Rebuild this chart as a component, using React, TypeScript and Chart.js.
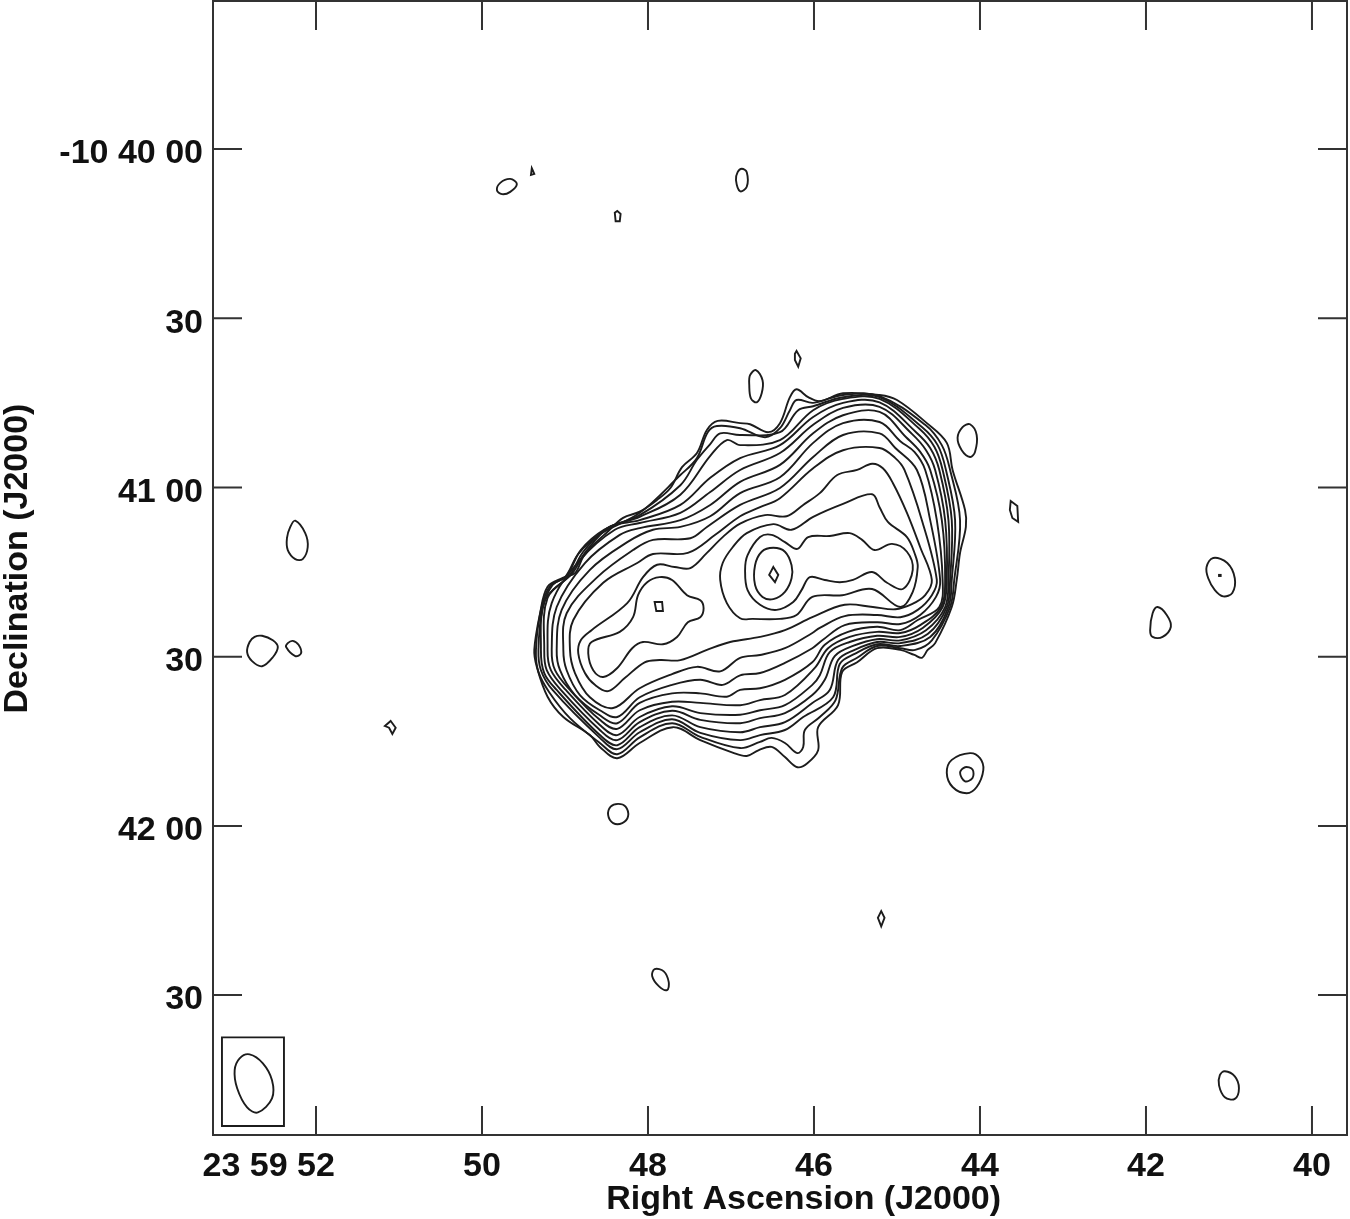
import React, { useEffect, useRef } from "react";
import { Chart, registerables } from "chart.js";

Chart.register(...registerables);

type Pt = [number, number];

// x: Right Ascension seconds after 23h59m; y: arcseconds south of -10d40m00s
const raTicks = [52, 50, 48, 46, 44, 42, 40];
const raLabels = ["23 59 52", "50", "48", "46", "44", "42", "40"];
const decTicks = [0, 30, 60, 90, 120, 150];
const decLabels = ["-10 40 00", "30", "41 00", "30", "42 00", "30"];

const peakCore: Pt[] = [[46.49,74.1],[46.43,75.5],[46.47,76.8],[46.54,75.5]];
const coreRing: Pt[] = [[46.49,70.7],[46.35,71.4],[46.27,73.8],[46.27,76.1],[46.35,78.5],[46.49,79.8],[46.62,79.4],[46.71,77.3],[46.71,73.8],[46.63,71.4]];
const contourA: Pt[] = [[46.83,74.6],[46.8,72.0],[46.65,68.8],[46.51,68.4],[46.35,69.7],[46.2,70.9],[46.07,68.8],[45.81,68.6],[45.57,68.1],[45.42,69.3],[45.27,71.1],[45.06,70.0],[44.88,71.4],[44.81,74.6],[44.93,78.0],[45.12,76.9],[45.3,75.0],[45.53,76.4],[45.69,76.8],[45.87,76.4],[46.05,75.9],[46.15,78.2],[46.25,80.3],[46.45,81.7],[46.65,80.8],[46.8,78.2]];
const contourB: Pt[] = [[47.13,76.4],[47.1,73.4],[46.98,70.6],[46.81,68.1],[46.49,66.5],[46.27,67.5],[46.01,65.2],[45.65,62.9],[45.3,61.2],[45.21,63.5],[45.11,66.1],[44.88,68.8],[44.78,72.0],[44.75,74.1],[44.81,78.5],[44.96,81.2],[45.3,78.0],[45.66,79.1],[46.02,79.4],[46.21,82.6],[46.41,83.3],[46.74,83.3],[46.89,83.2],[47.05,80.5]];
const westLobe: Pt[] = [[48.72,89.4],[48.68,87.4],[48.34,85.6],[48.18,83.0],[48.12,79.1],[48.01,76.8],[47.86,75.9],[47.71,76.4],[47.53,79.1],[47.37,80.0],[47.33,81.4],[47.37,83.0],[47.52,83.9],[47.65,86.5],[47.82,87.8],[48.06,87.4],[48.19,88.5],[48.37,92.0],[48.54,93.6],[48.66,92.4]];
const westPeak: Pt[] = [[47.92,80.3],[47.83,80.3],[47.82,81.9],[47.9,81.9]];
const contourC: Pt[] = [[48.84,89.4],[48.81,87.1],[48.68,85.3],[48.25,80.5],[48.06,75.9],[47.89,73.7],[47.68,74.1],[47.49,74.3],[47.29,71.6],[47.1,68.8],[46.89,66.4],[46.59,64.9],[46.33,65.1],[46.13,63.1],[45.93,61.0],[45.72,57.8],[45.48,56.9],[45.3,55.8],[45.17,56.6],[45.05,59.2],[44.88,64.5],[44.72,70.6],[44.58,76.4],[44.66,79.1],[44.82,80.7],[45.02,81.6],[45.29,81.2],[45.63,80.8],[46.02,83.0],[46.35,85.3],[46.65,86.5],[47.01,87.4],[47.29,88.8],[47.61,90.6],[47.86,90.6],[48.04,91.0],[48.28,93.8],[48.48,96.1],[48.64,95.0],[48.76,92.9]];
const contourD: Pt[] = [[48.94,88.8],[48.9,83.5],[48.54,76.9],[48.13,73.4],[47.94,71.8],[47.52,71.6],[47.19,68.4],[46.89,65.1],[46.65,63.5],[46.41,61.9],[46.01,56.6],[45.65,53.4],[45.21,53.0],[45.02,54.8],[44.91,56.9],[44.7,65.8],[44.52,76.4],[44.58,79.1],[44.75,81.7],[44.96,83.0],[45.24,82.6],[45.63,82.8],[45.93,84.9],[46.02,85.8],[46.35,88.5],[46.65,89.7],[46.89,90.2],[47.13,92.6],[47.41,91.8],[47.71,93.1],[48.1,95.6],[48.42,99.1],[48.7,97.2],[48.88,92.9]];
const contourE: Pt[] = [[49.02,88.8],[48.98,82.3],[48.61,75.9],[48.18,71.1],[47.94,69.3],[47.49,69.0],[47.29,67.0],[46.89,63.1],[46.41,60.1],[46.01,54.6],[45.65,50.7],[45.21,50.4],[45.02,53.0],[44.76,56.9],[44.6,65.8],[44.48,76.4],[44.53,79.4],[44.72,82.6],[44.96,84.2],[45.24,83.9],[45.63,84.4],[45.9,87.1],[46.02,88.5],[46.35,91.1],[46.65,92.9],[46.89,93.3],[47.1,95.0],[47.37,94.1],[47.71,95.0],[48.1,97.2],[48.37,100.7],[48.58,99.5],[48.82,96.8],[48.98,92.4]];
const contourF: Pt[] = [[49.1,88.8],[49.04,81.7],[48.7,74.6],[48.25,69.7],[47.94,67.5],[47.61,67.0],[47.25,65.1],[46.89,61.0],[46.41,58.2],[46.01,52.1],[45.65,48.6],[45.21,48.4],[44.96,51.8],[44.79,53.7],[44.66,56.9],[44.52,65.8],[44.45,76.4],[44.49,81.2],[44.75,83.5],[44.96,85.3],[45.24,84.7],[45.59,85.6],[45.87,87.9],[46.02,91.0],[46.35,94.1],[46.65,95.6],[46.89,95.9],[47.05,97.1],[47.37,96.5],[47.71,96.5],[48.1,98.2],[48.37,101.8],[48.58,100.4],[48.88,96.8],[49.06,92.4]];
const contourG: Pt[] = [[49.16,88.8],[49.1,81.2],[48.76,73.4],[48.34,68.4],[48.1,67.2],[47.61,65.8],[47.25,63.1],[46.89,59.0],[46.41,56.0],[46.01,50.4],[45.65,47.2],[45.21,46.6],[44.89,51.1],[44.72,53.7],[44.6,56.9],[44.46,65.8],[44.42,76.4],[44.47,81.2],[44.72,84.4],[44.96,85.8],[45.24,85.6],[45.57,86.5],[45.83,88.5],[45.99,92.0],[46.35,96.8],[46.65,97.7],[46.89,98.6],[47.37,98.2],[47.71,98.0],[48.1,99.5],[48.37,102.8],[48.58,101.2],[48.94,95.9],[49.12,92.4]];
const contourH: Pt[] = [[49.21,88.8],[49.16,80.5],[48.82,72.9],[48.4,67.5],[48.1,66.3],[47.61,64.5],[47.25,60.8],[46.89,56.9],[46.41,53.9],[46.01,48.9],[45.65,45.9],[45.21,45.7],[44.82,50.5],[44.65,53.4],[44.54,56.9],[44.42,65.8],[44.4,76.4],[44.45,81.2],[44.69,84.9],[44.96,86.5],[45.24,86.3],[45.57,87.4],[45.81,89.2],[45.93,93.3],[46.02,95.0],[46.35,98.6],[46.65,99.5],[46.89,100.3],[47.37,100.0],[47.71,98.8],[48.1,100.7],[48.37,103.9],[48.58,102.1],[48.99,95.9],[49.17,92.4]];
const contourI: Pt[] = [[49.25,88.8],[49.21,79.6],[48.91,75.2],[48.76,71.6],[48.46,67.0],[48.1,65.8],[47.61,63.1],[47.25,58.3],[46.89,54.8],[46.41,52.5],[46.01,47.5],[45.65,45.0],[45.21,44.9],[44.77,50.2],[44.6,53.0],[44.49,56.9],[44.38,65.8],[44.38,76.4],[44.42,81.2],[44.65,85.3],[44.96,87.1],[45.24,86.9],[45.53,88.1],[45.75,89.9],[45.87,94.1],[46.02,96.8],[46.35,100.0],[46.65,100.9],[46.89,101.8],[47.37,101.2],[47.71,99.6],[48.1,101.6],[48.37,104.8],[48.58,103.0],[49.05,95.9],[49.22,92.4]];
const contourJ: Pt[] = [[49.29,88.8],[49.24,80.0],[48.94,75.5],[48.78,71.4],[48.49,67.2],[48.1,65.2],[47.61,61.3],[47.25,54.4],[47.05,51.6],[46.89,52.5],[46.41,51.6],[46.01,46.3],[45.65,44.3],[45.21,44.3],[44.73,49.6],[44.55,52.8],[44.45,56.9],[44.34,65.8],[44.36,76.4],[44.4,81.2],[44.63,86.0],[44.96,87.6],[45.24,87.4],[45.51,88.8],[45.71,90.6],[45.81,95.9],[46.02,98.2],[46.35,101.6],[46.65,102.5],[46.89,103.4],[47.37,102.5],[47.71,100.4],[48.1,102.5],[48.37,105.7],[48.58,103.9],[49.1,95.9],[49.25,92.9]];
const contourK: Pt[] = [[49.32,88.8],[49.27,81.4],[49.15,77.3],[48.98,75.7],[48.81,71.1],[48.53,67.5],[48.1,64.9],[47.61,59.6],[47.41,55.1],[47.25,52.3],[47.13,50.4],[46.89,50.7],[46.41,50.2],[46.19,46.3],[46.01,45.6],[45.65,44.0],[45.21,44.0],[44.7,49.3],[44.51,52.5],[44.41,56.9],[44.3,65.8],[44.34,76.4],[44.38,81.2],[44.6,86.5],[44.96,88.1],[45.24,87.8],[45.51,89.5],[45.69,91.3],[45.77,97.2],[46.13,100.7],[46.35,103.0],[46.65,103.9],[46.89,104.8],[47.37,103.5],[47.71,101.1],[48.1,103.4],[48.37,106.4],[48.58,104.4],[49.15,95.9],[49.29,92.4]];
const contourL: Pt[] = [[49.35,88.8],[49.29,81.7],[49.18,77.5],[49.0,75.9],[48.84,71.8],[48.58,68.3],[48.1,64.5],[47.61,57.8],[47.41,54.8],[47.28,50.2],[47.17,49.1],[46.89,49.5],[46.59,51.1],[46.41,49.5],[46.29,46.3],[46.21,44.5],[46.01,45.0],[45.65,43.6],[45.21,43.8],[44.66,48.9],[44.46,52.5],[44.36,56.9],[44.24,65.8],[44.31,76.4],[44.36,81.2],[44.58,87.1],[44.78,88.8],[44.96,88.5],[45.24,88.1],[45.48,90.2],[45.66,92.0],[45.74,97.7],[45.93,100.7],[46.11,103.0],[46.13,106.0],[46.2,107.1],[46.35,105.3],[46.51,104.4],[46.65,105.1],[46.89,106.2],[47.37,104.2],[47.71,101.8],[48.1,104.3],[48.37,107.3],[48.58,105.3],[48.94,100.9],[49.19,96.3],[49.32,92.7]];
const contourM: Pt[] = [[49.37,88.8],[49.3,82.3],[49.21,77.6],[49.02,76.0],[48.88,75.2],[48.78,72.3],[48.66,70.2],[48.49,67.9],[48.3,65.4],[48.1,64.3],[47.89,62.2],[47.73,60.1],[47.59,56.4],[47.41,53.9],[47.29,49.8],[47.16,48.2],[46.89,48.6],[46.77,48.8],[46.55,50.2],[46.41,48.6],[46.29,44.0],[46.21,42.6],[46.07,44.0],[45.93,44.7],[45.65,43.3],[45.21,43.6],[45.0,44.5],[44.64,48.6],[44.4,52.1],[44.33,56.9],[44.18,64.0],[44.17,67.0],[44.24,71.6],[44.28,76.4],[44.34,81.2],[44.54,87.6],[44.63,88.8],[44.7,90.2],[44.79,89.7],[44.96,88.8],[45.24,88.5],[45.48,91.0],[45.66,92.7],[45.71,98.6],[45.95,102.5],[45.95,106.6],[46.08,108.9],[46.2,109.6],[46.35,107.8],[46.51,106.0],[46.67,106.6],[46.81,107.6],[46.98,107.0],[47.37,104.8],[47.7,102.5],[48.1,105.3],[48.37,108.0],[48.58,106.0],[48.7,103.9],[49.02,100.7],[49.21,97.1],[49.34,91.8]];

const island1: Pt[] = [[52.25,65.9],[52.13,68.1],[52.1,70.6],[52.16,72.7],[52.25,72.7],[52.34,71.1],[52.35,69.0],[52.31,67.0]];
const island2: Pt[] = [[52.65,86.3],[52.52,87.1],[52.46,88.3],[52.52,90.1],[52.65,91.7],[52.77,90.8],[52.83,89.2],[52.8,87.4],[52.74,86.5]];
const island3: Pt[] = [[52.28,87.2],[52.21,87.9],[52.18,89.4],[52.25,89.9],[52.36,88.3],[52.34,87.6]];
const island4: Pt[] = [[51.1,101.4],[51.04,102.6],[51.08,103.7],[51.12,102.6],[51.17,102.3]];
const island5: Pt[] = [[49.66,5.3],[49.58,6.2],[49.66,7.6],[49.76,8.0],[49.82,7.3],[49.78,6.0]];
const island6: Pt[] = [[49.4,3.4],[49.37,4.4],[49.41,4.6]];
const island7: Pt[] = [[48.37,11.0],[48.33,11.5],[48.34,12.8],[48.39,12.8],[48.4,11.3]];
const island8: Pt[] = [[46.87,3.5],[46.81,4.1],[46.81,6.7],[46.89,7.5],[46.94,5.5],[46.92,4.1]];
const island9: Pt[] = [[46.21,35.8],[46.16,37.1],[46.19,38.6],[46.23,37.4],[46.23,36.3]];
const island10: Pt[] = [[46.7,39.2],[46.62,41.0],[46.63,43.3],[46.69,44.9],[46.76,44.2],[46.78,41.8],[46.77,40.1]];
const island11: Pt[] = [[44.12,48.8],[44.04,50.7],[44.06,53.7],[44.12,54.6],[44.22,53.4],[44.27,51.2],[44.21,49.3]];
const island12: Pt[] = [[43.63,62.4],[43.55,63.3],[43.54,66.1],[43.61,65.4],[43.64,64.0]];
const island13: Pt[] = [[41.19,72.5],[41.02,73.4],[40.93,76.1],[40.96,78.7],[41.07,79.3],[41.17,78.2],[41.25,76.1],[41.27,74.1]];
const island13Dot: Pt[] = [[41.12,75.5],[41.1,75.5],[41.1,75.7],[41.12,75.7]];
const island14: Pt[] = [[41.86,81.2],[41.75,82.6],[41.7,84.7],[41.8,86.5],[41.92,86.5],[41.95,85.3],[41.92,82.3]];
const island15Outer: Pt[] = [[44.12,107.1],[44.0,108.0],[43.96,110.1],[44.04,113.1],[44.16,114.2],[44.33,113.1],[44.4,110.6],[44.34,108.3]];
const island15Inner: Pt[] = [[44.18,109.6],[44.09,110.0],[44.09,111.5],[44.18,112.1],[44.24,110.6]];
const island16: Pt[] = [[48.36,116.1],[48.27,116.6],[48.24,118.3],[48.31,119.5],[48.42,119.5],[48.48,118.1],[48.45,116.6]];
const island17: Pt[] = [[45.19,135.1],[45.15,136.3],[45.19,137.8],[45.23,136.3]];
const island18: Pt[] = [[47.92,145.4],[47.81,145.8],[47.75,147.7],[47.77,149.1],[47.87,148.4],[47.95,146.6]];
const island19: Pt[] = [[41.05,163.5],[40.93,164.4],[40.88,166.5],[40.93,168.4],[41.05,168.1],[41.12,166.0],[41.11,164.2]];

const beamEllipse: Pt[] = [[52.8,160.5],[52.64,162.1],[52.53,165.1],[52.53,168.3],[52.7,170.8],[52.83,169.9],[52.95,166.5],[52.98,163.3],[52.92,161.2]];
const beamBox: Pt[] = [[53.133,157.5],[52.386,157.5],[52.386,173.2],[53.133,173.2]];

const smoothContours: Pt[][] = [
  coreRing, contourA, contourB, westLobe, contourC, contourD, contourE, contourF, contourG,
  contourH, contourI, contourJ, contourK, contourL, contourM,
  island1, island2, island3, island5, island8, island10, island11, island13, island14,
  island15Outer, island15Inner, island16, island18, island19, beamEllipse,
];
const angularContours: Pt[][] = [peakCore, westPeak, island4, island6, island7, island9, island12, island13Dot, island17, beamBox];

const INK = "#1c1c1c";

// Closes every contour the same way Chart.js closes a radar outline.
const closeLoopsPlugin = {
  id: "closeLoops",
  afterDatasetUpdate(_chart: any, args: any) {
    const line = args.meta.dataset;
    if (!line) return;
    line._loop = true;
    line._fullLoop = true;
    line._pointsUpdated = false;
    line._segments = undefined;
  },
};

const framePlugin = {
  id: "frameTicks",
  afterDatasetsDraw(chart: any) {
    const { ctx, chartArea: a, scales } = chart;
    const len = 29;
    ctx.save();
    ctx.strokeStyle = "#333";
    ctx.lineWidth = 2;
    ctx.strokeRect(a.left, a.top, a.right - a.left, a.bottom - a.top);
    ctx.beginPath();
    raTicks.forEach((v) => {
      const x = scales.x.getPixelForValue(v);
      ctx.moveTo(x, a.top);
      ctx.lineTo(x, a.top + len);
      ctx.moveTo(x, a.bottom);
      ctx.lineTo(x, a.bottom - len);
    });
    decTicks.forEach((v) => {
      const y = scales.y.getPixelForValue(v);
      ctx.moveTo(a.left, y);
      ctx.lineTo(a.left + len, y);
      ctx.moveTo(a.right, y);
      ctx.lineTo(a.right - len, y);
    });
    ctx.stroke();
    ctx.restore();
  },
};

export default function App() {
  const ref = useRef<HTMLCanvasElement>(null);
  useEffect(() => {
    if (!ref.current) return;
    const toDataset = (c: Pt[], tension: number) => ({
      data: c,
      showLine: true,
      borderColor: INK,
      borderWidth: 1.9,
      pointRadius: 0,
      tension,
      fill: false,
    });
    const tickFont = { family: "'Liberation Sans', Arial, sans-serif", size: 34, weight: "bold" as const };
    const titleFont = { family: "'Liberation Sans', Arial, sans-serif", size: 34, weight: "bold" as const };
    const chart = new Chart(ref.current, {
      type: "scatter",
      data: {
        datasets: [
          ...smoothContours.map((c) => toDataset(c, 0.36)),
          ...angularContours.map((c) => toDataset(c, 0)),
        ],
      },
      options: {
        animation: false,
        responsive: false,
        devicePixelRatio: 1,
        layout: { padding: { left: 0, top: 1, right: 3, bottom: 0 } },
        plugins: { legend: { display: false }, tooltip: { enabled: false }, title: { display: false } },
        scales: {
          x: {
            type: "linear",
            reverse: true,
            min: 39.578,
            max: 53.241,
            border: { display: false },
            grid: { display: false, drawTicks: false },
            afterBuildTicks: (s: any) => {
              s.ticks = raTicks.map((value) => ({ value }));
            },
            afterFit: (s: any) => {
              s.height = 84;
              s.paddingLeft = 0;
              s.paddingRight = 0;
            },
            ticks: {
              autoSkip: false,
              maxRotation: 0,
              minRotation: 0,
              padding: 11,
              color: "#111",
              font: tickFont,
              callback: (v: any) => {
                const i = raTicks.indexOf(Number(v));
                const label = raLabels[i];
                return i === 0 ? label + "\u00a0".repeat(10) : label;
              },
            },
            title: {
              display: true,
              text: "\u00a0\u00a0\u00a0\u00a0\u00a0Right Ascension (J2000)",
              color: "#111",
              font: titleFont,
              padding: { top: 0, bottom: -1 },
            },
          },
          y: {
            type: "linear",
            reverse: true,
            min: -26.24,
            max: 174.8,
            border: { display: false },
            grid: { display: false, drawTicks: false },
            afterBuildTicks: (s: any) => {
              s.ticks = decTicks.map((value) => ({ value }));
            },
            afterFit: (s: any) => {
              s.width = 213;
              s.paddingTop = 0;
              s.paddingBottom = 0;
            },
            ticks: {
              autoSkip: false,
              padding: 10,
              labelOffset: 5,
              color: "#111",
              font: tickFont,
              callback: (v: any) => decLabels[decTicks.indexOf(Number(v))],
            },
            title: {
              display: true,
              text: "\u00a0\u00a0Declination (J2000)",
              color: "#111",
              font: titleFont,
              padding: { top: -3, bottom: 0 },
            },
          },
        },
      },
      plugins: [closeLoopsPlugin, framePlugin],
    } as any);
    return () => chart.destroy();
  }, []);
  return (
    <canvas
      ref={ref}
      width={1350}
      height={1219}
      style={{ position: "absolute", left: 0, top: 0, display: "block" }}
    />
  );
}
